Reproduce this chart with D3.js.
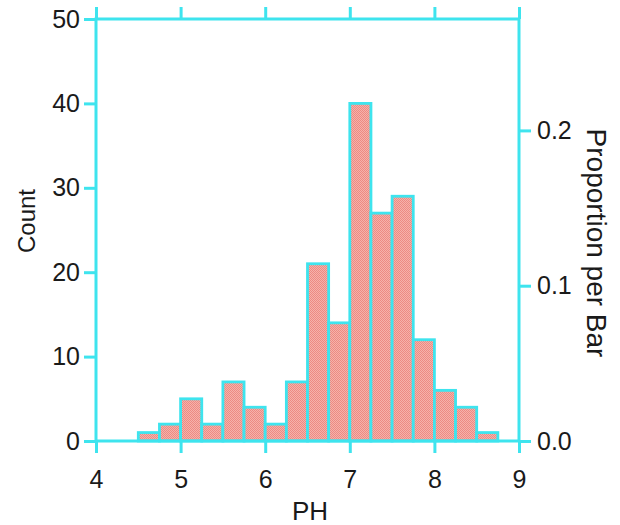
<!DOCTYPE html>
<html><head><meta charset="utf-8">
<script src="https://cdn.jsdelivr.net/npm/d3@7"></script>
<style>body{margin:0;background:#fff}svg{display:block}text{font-family:"Liberation Sans",Arial,sans-serif;fill:#1a1a1a}</style>
</head><body>
<svg id="c" width="620" height="525"></svg>
<script>
const binStarts = [4.5,4.75,5,5.25,5.5,5.75,6,6.25,6.5,6.75,7,7.25,7.5,7.75,8,8.25,8.5];
const counts    = [1,2,5,2,7,4,2,7,21,14,40,27,29,12,6,4,1];
const binWidth = 0.25;
const xTicks = [4,5,6,7,8,9];
const countTicks = [0,10,20,30,40,50];
const propTicks = [0.0,0.1,0.2];

(function(){
const total = d3.sum(counts);
const svg = d3.select("#c");
const L=96,R=519,T=19,B=441;
const x = d3.scaleLinear().domain([4,9]).range([L,R]);
const y = d3.scaleLinear().domain([0,50]).range([B,T]);
const yp = d3.scaleLinear().domain([0,50/total]).range([B,T]);
const cyan = "#3ee4ee";

const defs = svg.append("defs");
const pat = defs.append("pattern").attr("id","dots").attr("width",2).attr("height",2).attr("patternUnits","userSpaceOnUse");
pat.append("rect").attr("width",2).attr("height",2).attr("fill","#f6b2aa");
pat.append("rect").attr("width",1).attr("height",1).attr("fill","#ec8a83");
pat.append("rect").attr("x",1).attr("y",1).attr("width",1).attr("height",1).attr("fill","#ec8a83");

svg.append("g").selectAll("rect").data(binStarts).join("rect")
  .attr("x",(d)=>x(d)).attr("width",(d)=>x(d+binWidth)-x(d))
  .attr("y",(d,i)=>y(counts[i])).attr("height",(d,i)=>B-y(counts[i]))
  .attr("fill","url(#dots)").attr("stroke",cyan).attr("stroke-width",2.8);

function style(g){
  g.select(".domain").remove();
  g.selectAll(".tick line").attr("stroke",cyan).attr("stroke-width",3);
  g.selectAll(".tick text").style("font-size","25px").attr("fill","#1a1a1a");
}
const gBottom = svg.append("g").attr("transform",`translate(0,${B})`)
  .call(d3.axisBottom(x).tickValues(xTicks).tickFormat(d3.format("d")).tickSize(12).tickPadding(17));
style(gBottom);
const gTop = svg.append("g").attr("transform",`translate(0,${T})`)
  .call(d3.axisTop(x).tickValues(xTicks).tickSize(12).tickFormat(""));
style(gTop);
const gLeft = svg.append("g").attr("transform",`translate(${L},0)`)
  .call(d3.axisLeft(y).tickValues(countTicks).tickFormat(d3.format("d")).tickSize(12).tickPadding(4));
style(gLeft);
const gRight = svg.append("g").attr("transform",`translate(${R},0)`)
  .call(d3.axisRight(yp).tickValues(propTicks).tickFormat(d3.format(".1f")).tickSize(12).tickPadding(6));
style(gRight);

svg.append("rect").attr("x",L).attr("y",T).attr("width",R-L).attr("height",B-T)
  .attr("fill","none").attr("stroke",cyan).attr("stroke-width",3);

svg.append("text").attr("x",310).attr("y",520).attr("text-anchor","middle").style("font-size","26px").text("PH");
svg.append("text").attr("transform","translate(35,221) rotate(-90)").attr("text-anchor","middle").style("font-size","24px").text("Count");
svg.append("text").attr("transform","translate(587,243) rotate(90)").attr("text-anchor","middle").style("font-size","28px").text("Proportion per Bar");
})();
</script>
</body></html>
